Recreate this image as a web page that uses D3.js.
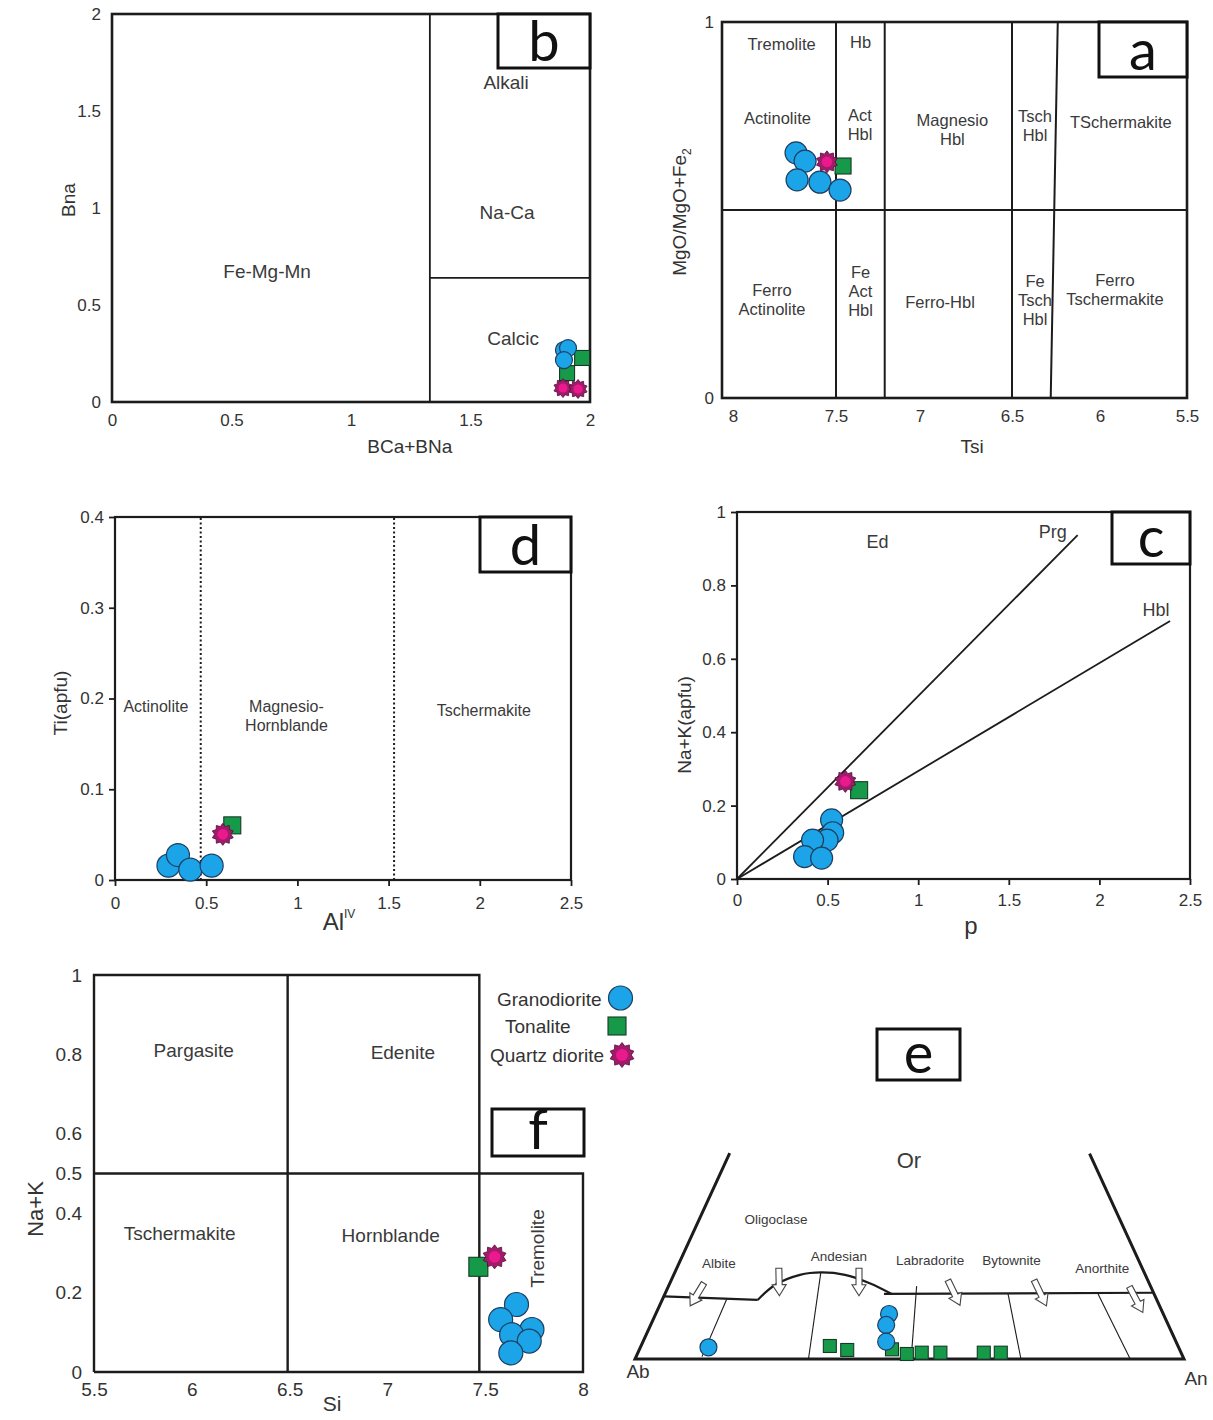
<!DOCTYPE html>
<html><head><meta charset="utf-8">
<script src="https://cdn.jsdelivr.net/npm/d3@7"></script>
<style>
body{margin:0;background:#fff;}
svg text{font-family:"Liberation Sans",Arial,Helvetica,sans-serif;}
</style></head><body>
<svg id="chart" width="1213" height="1420"></svg>
<script>
// ================= DATA =================
const SERIES = ["Granodiorite","Tonalite","Quartz diorite"];

// ---- Panel b : BCa+BNa vs BNa ----
const bXTicks = [0,0.5,1,1.5,2];
const bYTicks = [0,0.5,1,1.5,2];
const bGranX = [1.891,1.908,1.891];
const bGranY = [0.268,0.278,0.216];
const bTonX  = [1.967,1.904];
const bTonY  = [0.227,0.149];
const bQdX   = [1.887,1.950];
const bQdY   = [0.072,0.067];
const bLines = [[[1.33,0],[1.33,2]],[[1.33,0.64],[2,0.64]]];
const bLabels = [["Fe-Mg-Mn",0.649,0.675],["Alkali",1.649,1.649],["Na-Ca",1.653,0.979],["Calcic",1.678,0.330]];

// ---- Panel a : Tsi vs MgO/(MgO+Fe2) ----
const aXTicks = [8,7.5,7,6.5,6,5.5];
const aYTicks = [0,1];
const aGranX = [7.694,7.650,7.689,7.578,7.476];
const aGranY = [0.652,0.630,0.580,0.574,0.553];
const aTonX  = [7.458];
const aTonY  = [0.617];
const aQdX   = [7.544];
const aQdY   = [0.628];
const aLines = [[[8.05,0.5],[5.5,0.5]],[[7.5,0],[7.5,1]],[[7.21,0],[7.21,1]],[[6.5,0],[6.5,1]],[[6.28,0],[6.24,1]]];
const aLabels = [["Tremolite",7.764,0.940],["Hb",7.354,0.947],["Actinolite",7.784,0.743],["Act\nHbl",7.357,0.726],
  ["Magnesio\nHbl",6.824,0.714],["Tsch\nHbl",6.369,0.724],["TSchermakite",5.880,0.734],
  ["Ferro\nActinolite",7.811,0.261],["Fe\nAct\nHbl",7.354,0.284],["Ferro-Hbl",6.891,0.255],
  ["Fe\nTsch\nHbl",6.369,0.261],["Ferro\nTschermakite",5.914,0.287]];

// ---- Panel d : AlIV vs Ti ----
const dXTicks = [0,0.5,1,1.5,2,2.5];
const dYTicks = [0,0.1,0.2,0.3,0.4];
const dGranX = [0.293,0.345,0.413,0.530];
const dGranY = [0.0158,0.0275,0.0114,0.0158];
const dTonX  = [0.643];
const dTonY  = [0.0602];
const dQdX   = [0.591];
const dQdY   = [0.0503];
const dDotted = [0.47,1.53];
const dLabels = [["Actinolite",0.224,0.191],["Magnesio-\nHornblande",0.940,0.1805],["Tschermakite",2.022,0.187]];

// ---- Panel c : p vs Na+K ----
const cXTicks = [0,0.5,1,1.5,2,2.5];
const cYTicks = [0,0.2,0.4,0.6,0.8,1];
const cGranX = [0.522,0.528,0.497,0.417,0.373,0.467];
const cGranY = [0.161,0.126,0.106,0.106,0.061,0.057];
const cTonX  = [0.674];
const cTonY  = [0.242];
const cQdX   = [0.598];
const cQdY   = [0.266];
const cLines = [[[0,0],[1.88,0.937]],[[0,0],[2.39,0.703]]];
const cLabels = [["Ed",0.775,0.919],["Prg",1.742,0.946],["Hbl",2.312,0.733]];

// ---- Panel f : Si vs Na+K ----
const fXTicks = [5.5,6,6.5,7,7.5,8];
const fYTicks = [0,0.2,0.4,0.5,0.6,0.8,1];
const fGranX = [7.660,7.579,7.739,7.635,7.725,7.631];
const fGranY = [0.170,0.132,0.107,0.094,0.078,0.048];
const fTonX  = [7.465];
const fTonY  = [0.265];
const fQdX   = [7.548];
const fQdY   = [0.290];
const fLines = [[[5.5,0],[5.5,1],[7.47,1],[7.47,0]],[[6.49,0],[6.49,1]],[[5.5,0.5],[8,0.5],[8,0],[5.5,0]]];
const fLabels = [["Pargasite",6.010,0.811],["Edenite",7.079,0.806],["Tschermakite",5.938,0.349],["Hornblande",7.017,0.343]];

// ---- Panel e : feldspar Ab-An-Or (An %, Or %) ----
const eGranAn = [12.4,42.5,42.9,44.3];
const eGranOr = [1.96,7.54,5.70,2.90];
const eTonAn  = [34.4,37.9,46.0,49.1,51.7,55.1,63.0,66.1];
const eTonOr  = [2.18,1.51,1.62,0.84,1.06,1.06,1.06,1.06];
const eOuter  = [[[0,34.5],[0,0],[100,0],[65.6,34.4]]];
const eBoundLeft = [[0,10.5],[17.4,9.9]];
const eHump = [[17.4,9.9],[19.3,12.4],[23.0,14.1],[26.7,14.5],[31.2,14.1],[36.4,12.7],[41.3,10.9]];
const eBoundRight = [[39.9,10.9],[88.9,11.1]];
const eDividers = [[[11.7,10.0],[12.0,0.4]],[[26.6,14.5],[31.6,0]],[[45.2,12.2],[50.3,0]],[[62.5,10.9],[70.3,0]],[[78.9,10.9],[90.2,0]]];
const eArrows = [[[6.2,12.7],[5.6,8.9]],[[18.6,15.2],[21.0,10.6]],[[33.2,15.2],[35.5,10.6]],[[50.4,13.2],[54.7,9.0]],[[66.1,13.2],[70.5,8.9]],[[84.0,12.1],[88.6,7.8]]];
const eLabels = [["Or",33.3,33.2,22],["Oligoclase",14.0,23.4,13.5],["Albite",7.3,16.0,13.5],["Andesian",28.5,17.25,13.5],
  ["Labradorite",45.5,16.5,13.5],["Bytownite",60.3,16.6,13.5],["Anorthite",77.5,15.2,13.5]];

// ================= STYLE =================
const INK = "#1c1c1c", TXT = "#333", LBL = "#3a3a3a";
const C_BLUE = "#1ba4e8", C_BLUE_S = "#1f3e60";
const C_GREEN = "#17994a", C_GREEN_S = "#173a25";
const C_STAR = "#a21a6c", C_STAR_S = "#4e0e36", C_STAR_IN = "#ea1a8d";
const svg = d3.select("#chart");
svg.append("rect").attr("width",1213).attr("height",1420).attr("fill","#fff");

function starPath(R){
  const n = 10, r = R*0.74, pts = [];
  for (let i=0;i<2*n;i++){ const a = Math.PI*i/n - Math.PI/2, rr = i%2 ? r : R; pts.push([rr*Math.cos(a), rr*Math.sin(a)]); }
  return "M" + pts.map(p=>p[0].toFixed(2)+","+p[1].toFixed(2)).join("L") + "Z";
}
function drawSquares(g, x, y, xs, ys, s){
  g.selectAll(null).data(d3.zip(xs,ys)).join("rect")
    .attr("x", d=>x(d[0])-s/2).attr("y", d=>y(d[1])-s/2).attr("width",s).attr("height",s)
    .attr("fill",C_GREEN).attr("stroke",C_GREEN_S).attr("stroke-width",1.1);
}
function drawCircles(g, x, y, xs, ys, r){
  g.selectAll(null).data(d3.zip(xs,ys)).join("circle")
    .attr("cx", d=>x(d[0])).attr("cy", d=>y(d[1])).attr("r", r)
    .attr("fill",C_BLUE).attr("stroke",C_BLUE_S).attr("stroke-width",1.2);
}
function drawStars(g, x, y, xs, ys, R){
  const s = g.selectAll(null).data(d3.zip(xs,ys)).join("g").attr("transform", d=>`translate(${x(d[0])},${y(d[1])})`);
  s.append("path").attr("d", starPath(R)).attr("fill",C_STAR).attr("stroke",C_STAR_S).attr("stroke-width",0.8);
  s.append("circle").attr("r", R*0.48).attr("fill",C_STAR_IN);
}
function drawLines(g, x, y, lines, w){
  const ln = d3.line().x(d=>x(d[0])).y(d=>y(d[1]));
  g.selectAll(null).data(lines).join("path").attr("d", ln).attr("fill","none").attr("stroke",INK).attr("stroke-width",w);
}
function drawLabels(g, x, y, arr, size, lh){
  arr.forEach(([t, dx, dy]) => {
    const lines = t.split("\n");
    const el = g.append("text").attr("text-anchor","middle").attr("font-size",size).attr("fill",LBL);
    lines.forEach((l,i)=> el.append("tspan").attr("x", x(dx)).attr("y", y(dy) + (i-(lines.length-1)/2)*lh).attr("dy","0.35em").text(l));
  });
}
function axes(g, x, y, o){
  const gx = g.append("g").attr("transform",`translate(0,${o.xAt})`)
    .call(d3.axisBottom(x).tickValues(o.xTicks).tickFormat(d=>String(d)).tickSize(o.tick).tickPadding(o.xpad));
  const gy = g.append("g").attr("transform",`translate(${o.yAt},0)`)
    .call(d3.axisLeft(y).tickValues(o.yTicks).tickFormat(d=>String(d)).tickSize(o.tick).tickPadding(o.ypad));
  [gx,gy].forEach(a=>{
    a.attr("font-family",null).attr("font-size",null);
    a.select(".domain").remove();
    a.selectAll("text").attr("font-size",o.font).attr("fill",TXT);
    a.selectAll("line").attr("stroke",INK).attr("stroke-width",1.8);
  });
}
function letterBox(x0,y0,x1,y1,letter){
  svg.append("rect").attr("x",x0).attr("y",y0).attr("width",x1-x0).attr("height",y1-y0)
    .attr("fill","#fff").attr("stroke","#111").attr("stroke-width",3);
  svg.append("text").attr("x",(x0+x1)/2).attr("y",y1-7).attr("text-anchor","middle")
    .attr("font-size",56).attr("fill","#111").style("font-family","Lato, 'Open Sans', sans-serif").text(letter);
}
function rotTitle(x0,y0,size,build){
  const t = svg.append("text").attr("transform",`translate(${x0},${y0}) rotate(-90)`).attr("text-anchor","middle")
    .attr("dy","0.35em").attr("font-size",size).attr("fill",TXT);
  build(t);
  return t;
}
function title(x0,y0,size,txt){
  return svg.append("text").attr("x",x0).attr("y",y0).attr("text-anchor","middle").attr("dy","0.35em").attr("font-size",size).attr("fill",TXT).text(txt);
}

// ================= PANEL b =================
{
  const x = d3.scaleLinear().domain([0,2]).range([112,590]);
  const y = d3.scaleLinear().domain([0,2]).range([402,14]);
  const g = svg.append("g");
  drawLines(g, x, y, bLines, 1.8);
  g.append("rect").attr("x",x(0)).attr("y",y(2)).attr("width",x(2)-x(0)).attr("height",y(0)-y(2))
    .attr("fill","none").attr("stroke",INK).attr("stroke-width",2.6);
  axes(g, x, y, {xTicks:bXTicks, yTicks:bYTicks, xAt:y(0), yAt:x(0), tick:0, xpad:12, ypad:11, font:17});
  drawLabels(g, x, y, bLabels, 19, 20);
  drawSquares(g, x, y, bTonX, bTonY, 15);
  drawCircles(g, x, y, bGranX, bGranY, 8.5);
  drawStars(g, x, y, bQdX, bQdY, 9.5);
  rotTitle(68, 200, 19, t=>t.text("Bna"));
  title(x(1.25)-1, 446, 19, "BCa+BNa");
  letterBox(498,14,590,68,"b");
}

// ================= PANEL a =================
{
  const x = d3.scaleLinear().domain([8.05,8,7.5,7,6.5,6,5.5]).range([722,733,836,920,1012,1100,1187]);
  const y = d3.scaleLinear().domain([0,1]).range([398,22]);
  const g = svg.append("g");
  drawLines(g, x, y, aLines, 2);
  g.append("rect").attr("x",x(8.05)).attr("y",y(1)).attr("width",x(5.5)-x(8.05)).attr("height",y(0)-y(1))
    .attr("fill","none").attr("stroke",INK).attr("stroke-width",2.6);
  axes(g, x, y, {xTicks:aXTicks, yTicks:aYTicks, xAt:y(0), yAt:x(8.05), tick:0, xpad:12, ypad:8, font:17});
  drawLabels(g, x, y, aLabels, 16.5, 19);
  drawCircles(g, x, y, aGranX, aGranY, 11);
  drawSquares(g, x, y, aTonX, aTonY, 16);
  drawStars(g, x, y, aQdX, aQdY, 11);
  rotTitle(679, 212, 19, t=>{ t.append("tspan").text("MgO/MgO+Fe"); t.append("tspan").attr("font-size",12).attr("dy",5).text("2"); });
  title(972, 446, 19, "Tsi");
  letterBox(1099,22,1187,77,"a");
}

// ================= PANEL d =================
{
  const x = d3.scaleLinear().domain([0,2.5]).range([115,571]);
  const y = d3.scaleLinear().domain([0,0.4]).range([880,517]);
  const g = svg.append("g");
  g.selectAll(null).data(dDotted).join("line")
    .attr("x1",d=>x(d)).attr("x2",d=>x(d)).attr("y1",y(0)).attr("y2",y(0.4))
    .attr("stroke",INK).attr("stroke-width",2).attr("stroke-dasharray","2,2.5");
  g.append("rect").attr("x",x(0)).attr("y",y(0.4)).attr("width",x(2.5)-x(0)).attr("height",y(0)-y(0.4))
    .attr("fill","none").attr("stroke",INK).attr("stroke-width",2.2);
  axes(g, x, y, {xTicks:dXTicks, yTicks:dYTicks, xAt:y(0), yAt:x(0), tick:6, xpad:11, ypad:5, font:17});
  drawLabels(g, x, y, dLabels, 16, 19);
  drawCircles(g, x, y, dGranX, dGranY, 11.5);
  drawSquares(g, x, y, dTonX, dTonY, 17);
  drawStars(g, x, y, dQdX, dQdY, 11);
  rotTitle(60, 703, 19, t=>t.text("Ti(apfu)"));
  const tt = svg.append("text").attr("x",339).attr("y",930).attr("text-anchor","middle").attr("font-size",24).attr("fill",TXT);
  tt.append("tspan").text("Al"); tt.append("tspan").attr("font-size",12).attr("dy",-12).text("IV");
  letterBox(480,517,571,572,"d");
}

// ================= PANEL c =================
{
  const x = d3.scaleLinear().domain([0,2.5]).range([737,1190]);
  const y = d3.scaleLinear().domain([0,1]).range([879,512]);
  const g = svg.append("g");
  drawLines(g, x, y, cLines, 1.8);
  g.append("rect").attr("x",x(0)).attr("y",y(1)).attr("width",x(2.5)-x(0)).attr("height",y(0)-y(1))
    .attr("fill","none").attr("stroke",INK).attr("stroke-width",2.2);
  axes(g, x, y, {xTicks:cXTicks, yTicks:cYTicks, xAt:y(0), yAt:x(0), tick:6, xpad:9, ypad:5, font:17});
  drawLabels(g, x, y, cLabels, 18, 19);
  drawCircles(g, x, y, cGranX, cGranY, 11);
  drawSquares(g, x, y, cTonX, cTonY, 17);
  drawStars(g, x, y, cQdX, cQdY, 11);
  rotTitle(684, 725, 19, t=>t.text("Na+K(apfu)"));
  title(971, 926, 24, "p");
  letterBox(1112,512,1190,564,"c");
}

// ================= PANEL f =================
{
  const x = d3.scaleLinear().domain([5.5,8]).range([94,583]);
  const y = d3.scaleLinear().domain([0,1]).range([1372,975]);
  const g = svg.append("g");
  drawLines(g, x, y, fLines, 2.4);
  axes(g, x, y, {xTicks:fXTicks, yTicks:fYTicks, xAt:y(0), yAt:x(5.5), tick:0, xpad:11, ypad:12, font:19});
  drawLabels(g, x, y, fLabels, 19, 20);
  g.append("text").attr("transform",`translate(${x(7.767)},${y(0.311)}) rotate(-90)`).attr("text-anchor","middle")
    .attr("dy","0.35em").attr("font-size",19).attr("fill",LBL).text("Tremolite");
  drawSquares(g, x, y, fTonX, fTonY, 19);
  drawCircles(g, x, y, fGranX, fGranY, 12);
  drawStars(g, x, y, fQdX, fQdY, 12);
  rotTitle(35, 1209, 22, t=>t.text("Na+K"));
  title(332, 1404, 21, "Si");
  letterBox(492,1109,584,1156,"f");
  // legend
  const lg = svg.append("g");
  const items = [[SERIES[0],497,999],[SERIES[1],505,1026],[SERIES[2],490,1055]];
  items.forEach(([t,tx,ty])=> lg.append("text").attr("x",tx).attr("y",ty).attr("dy","0.35em").attr("font-size",19).attr("fill",TXT).text(t));
  drawCircles(lg, d=>d, d=>d, [620.5],[998], 12);
  drawSquares(lg, d=>d, d=>d, [617],[1026], 18);
  drawStars(lg, d=>d, d=>d, [622],[1055], 12.5);
}

// ================= PANEL e =================
{
  const ex = d3.scaleLinear().domain([0,100]).range([635,1184]);
  const ey = d3.scaleLinear().domain([0,100]).range([1359,762]);
  const px = d => ex(d[0] + d[1]/2), py = d => ey(d[1]);
  const g = svg.append("g");
  const ln = d3.line().x(px).y(py);
  g.selectAll(null).data(eOuter).join("path").attr("d",ln).attr("fill","none").attr("stroke",INK).attr("stroke-width",3).attr("stroke-linejoin","miter");
  g.append("path").attr("d",ln(eBoundLeft)).attr("fill","none").attr("stroke",INK).attr("stroke-width",2.2);
  g.append("path").attr("d",d3.line().x(px).y(py).curve(d3.curveCatmullRom)(eHump)).attr("fill","none").attr("stroke",INK).attr("stroke-width",2.2);
  g.append("path").attr("d",ln(eBoundRight)).attr("fill","none").attr("stroke",INK).attr("stroke-width",2.2);
  g.selectAll(null).data(eDividers).join("path").attr("d",ln).attr("fill","none").attr("stroke",INK).attr("stroke-width",1.1);
  // hollow arrows
  eArrows.forEach(([s,e])=>{
    const x0=px(s), y0=py(s), x1=px(e), y1=py(e);
    const L = Math.hypot(x1-x0,y1-y0), ux=(x1-x0)/L, uy=(y1-y0)/L, nx=-uy, ny=ux;
    const hw=3, hh=7, hl=11;
    const P = (t,w)=>[x0+ux*t+nx*w, y0+uy*t+ny*w];
    const pts=[P(0,-hw),P(L-hl,-hw),P(L-hl,-hh),P(L,0),P(L-hl,hh),P(L-hl,hw),P(0,hw)];
    g.append("path").attr("d","M"+pts.map(p=>p.join(",")).join("L")+"Z").attr("fill","#fff").attr("stroke","#444").attr("stroke-width",1.1);
  });
  eLabels.forEach(([t,an,or,fs])=> g.append("text").attr("x",px([an,or])).attr("y",py([an,or])).attr("dy","0.35em")
    .attr("text-anchor","middle").attr("font-size",fs).attr("fill",LBL).text(t));
  g.append("text").attr("x",px([0,0])+3).attr("y",py([0,0])+12).attr("dy","0.35em").attr("text-anchor","middle").attr("font-size",19).attr("fill",TXT).text("Ab");
  g.append("text").attr("x",px([100,0])+12).attr("y",py([100,0])+19).attr("dy","0.35em").attr("text-anchor","middle").attr("font-size",19).attr("fill",TXT).text("An");
  drawSquares(g, d=>ex(d), d=>d, eTonAn.map((a,i)=>a+eTonOr[i]/2), eTonOr.map(o=>ey(o)), 13);
  drawCircles(g, d=>ex(d), d=>d, eGranAn.map((a,i)=>a+eGranOr[i]/2), eGranOr.map(o=>ey(o)), 8.5);
  letterBox(877,1029,960,1080,"e");
}
</script>
</body></html>
